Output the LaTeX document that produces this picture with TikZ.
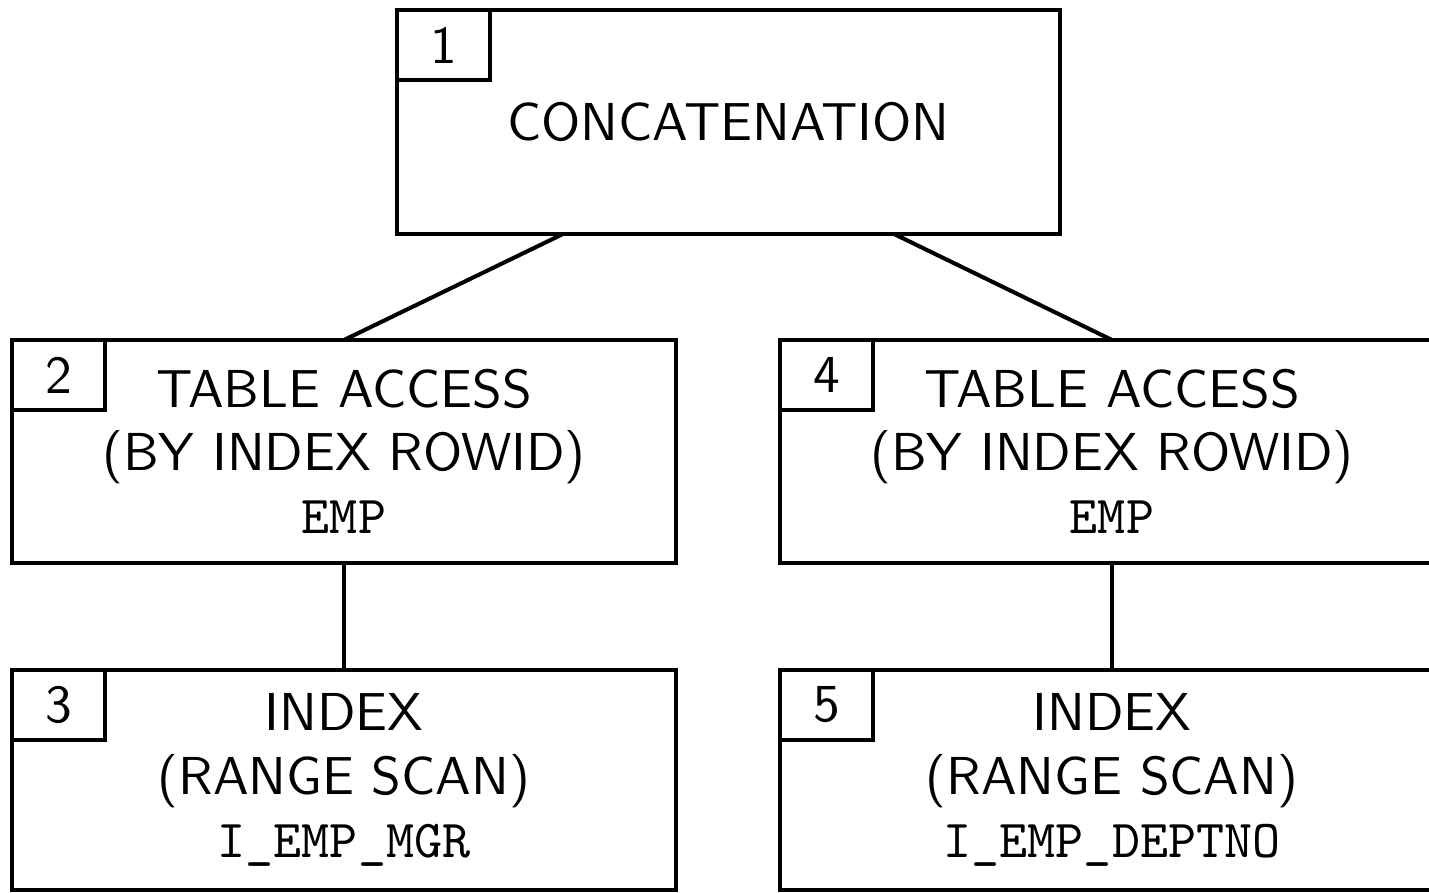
\documentclass[tikz,border=0pt]{standalone}
\usepackage{fontspec}
\usepackage{tikz}
\usetikzlibrary{positioning}
\setsansfont{lmsans10-regular.otf}
\setmonofont{lmmono10-regular.otf}

\begin{document}
\begin{tikzpicture}[line width=1.15pt,
  opbox/.style={draw,rectangle,outer sep=0pt,inner sep=0pt,align=center,
    minimum width=6.64cm,minimum height=2.23cm,
    font=\sffamily\fontsize{15.2}{18}\selectfont},
  numbox/.style={draw,rectangle,outer sep=0pt,inner sep=0pt,anchor=north west,
    minimum width=0.93cm,minimum height=0.70cm,
    font=\sffamily\fontsize{15.2}{18}\selectfont}]
\useasboundingbox (0,0) rectangle (14.29,8.92);
\clip (0,0) rectangle (14.29,8.92);
% operations
\node[opbox,minimum width=6.63cm,minimum height=2.24cm] (b1) at (7.285,7.70) {CONCATENATION};
\node[opbox] (b2) at (3.44,4.405) {TABLE ACCESS\\(BY INDEX ROWID)\\\texttt{EMP}};
\node[opbox] (b4) at (11.12,4.405) {TABLE ACCESS\\(BY INDEX ROWID)\\\texttt{EMP}};
\node[opbox,minimum height=2.2cm] (b3) at (3.44,1.12) {INDEX\\(RANGE SCAN)\\\texttt{I\_EMP\_MGR}};
\node[opbox,minimum height=2.2cm] (b5) at (11.12,1.12) {INDEX\\(RANGE SCAN)\\\texttt{I\_EMP\_DEPTNO}};
% step numbers
\node[numbox] (n1) at (b1.north west) {1};
\node[numbox] (n2) at (b2.north west) {2};
\node[numbox] (n4) at (b4.north west) {4};
\node[numbox] (n3) at (b3.north west) {3};
\node[numbox] (n5) at (b5.north west) {5};
% tree
\draw ([xshift=-1.655cm]b1.south)--(b2.north) ([xshift=1.655cm]b1.south)--(b4.north);
\draw (b2.south)--(b3.north) (b4.south)--(b5.north);
\end{tikzpicture}
\end{document}
